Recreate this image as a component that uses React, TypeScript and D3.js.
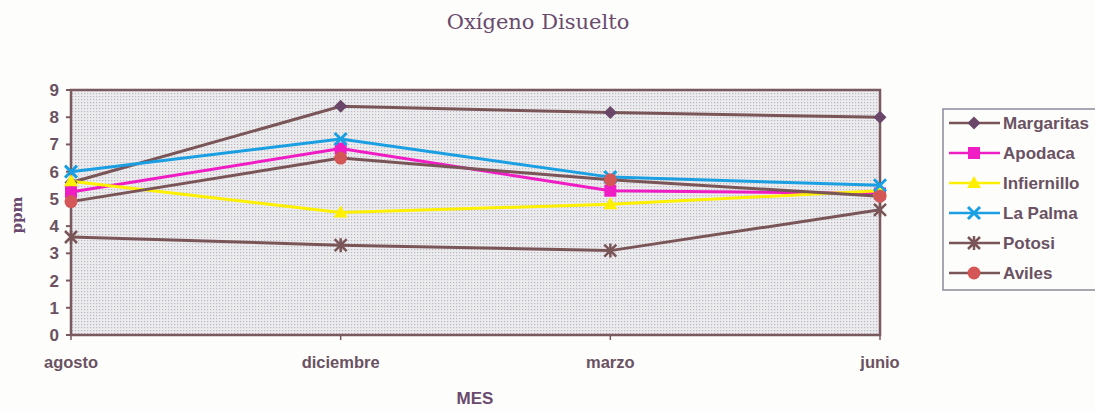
import React from "react";
import * as d3 from "d3";

const months = ["agosto", "diciembre", "marzo", "junio"];
const margaritas = [5.6, 8.4, 8.17, 8.0];
const apodaca = [5.25, 6.85, 5.3, 5.2];
const infiernillo = [5.65, 4.5, 4.8, 5.3];
const laPalma = [6.0, 7.2, 5.8, 5.5];
const potosi = [3.6, 3.3, 3.1, 4.6];
const aviles = [4.9, 6.5, 5.7, 5.1];
const yTicks = [0, 1, 2, 3, 4, 5, 6, 7, 8, 9];

const seriesNames = ["Margaritas", "Apodaca", "Infiernillo", "La Palma", "Potosi", "Aviles"];
const seriesValues = [margaritas, apodaca, infiernillo, laPalma, potosi, aviles];
const lineColors = ["#7a5558", "#f01cc4", "#fff000", "#1a9fe2", "#7a5558", "#7a5558"];
const markerColors = ["#6a4668", "#f01cc4", "#fff000", "#1a9fe2", "#7a5558", "#d45656"];
const markerTypes = ["diamond", "square", "triangle", "x", "star", "circle"];

const W = 1095;
const H = 411;
const plot = { left: 71, right: 880, top: 90, bottom: 335 };
const axisColor = "#7a5a5e";
const textColor = "#6a5262";

function Marker({ type, x, y, color }: { type: string; x: number; y: number; color: string }) {
  const s = 6.5;
  if (type === "diamond") {
    return <path d={`M${x},${y - s}L${x + s},${y}L${x},${y + s}L${x - s},${y}Z`} fill={color} />;
  }
  if (type === "square") {
    return <rect x={x - 6} y={y - 6} width={12} height={12} fill={color} />;
  }
  if (type === "triangle") {
    return <path d={`M${x},${y - 7}L${x + 7},${y + 5}L${x - 7},${y + 5}Z`} fill={color} />;
  }
  if (type === "x") {
    return (
      <path d={`M${x - 6},${y - 6}L${x + 6},${y + 6}M${x + 6},${y - 6}L${x - 6},${y + 6}`} stroke={color} strokeWidth={3} />
    );
  }
  if (type === "star") {
    return (
      <path
        d={`M${x - 6},${y - 6}L${x + 6},${y + 6}M${x + 6},${y - 6}L${x - 6},${y + 6}M${x},${y - 7}L${x},${y + 7}`}
        stroke={color}
        strokeWidth={2.5}
      />
    );
  }
  return <circle cx={x} cy={y} r={6.5} fill={color} />;
}

export default function App() {
  const x = d3.scalePoint<string>().domain(months).range([plot.left, plot.right]).padding(0);
  const y = d3.scaleLinear().domain([0, 9]).range([plot.bottom, plot.top]);
  const line = d3
    .line<number>()
    .x((_, i) => x(months[i]) as number)
    .y((d) => y(d));

  const legend = { x: 943, y: 109, w: 160, h: 181 };

  return (
    <svg width={W} height={H} style={{ position: "absolute", left: 0, top: 0, background: "#fdfdfb" }}>
      <defs>
        <pattern id="dots" width="3" height="3" patternUnits="userSpaceOnUse">
          <rect width="3" height="3" fill="#ececef" />
          <rect x="0" y="0" width="1.2" height="1.2" fill="#b8b8c0" />
        </pattern>
      </defs>
      <text
        x={538}
        y={29}
        textAnchor="middle"
        fontFamily="'DejaVu Serif', 'Liberation Serif', serif"
        fontSize={21}
        fill="#6a4a6e"
      >
        Oxígeno Disuelto
      </text>
      <rect
        x={plot.left}
        y={plot.top}
        width={plot.right - plot.left}
        height={plot.bottom - plot.top}
        fill="url(#dots)"
        stroke={axisColor}
        strokeWidth={2.5}
      />
      {yTicks.map((t) => (
        <g key={t}>
          <line x1={plot.left - 5} x2={plot.left} y1={y(t)} y2={y(t)} stroke={axisColor} strokeWidth={2} />
          <text
            x={plot.left - 12}
            y={y(t) + 6}
            textAnchor="end"
            fontFamily="'Liberation Sans', Arial, sans-serif"
            fontWeight="bold"
            fontSize={17}
            fill={textColor}
          >
            {t}
          </text>
        </g>
      ))}
      {months.map((m) => (
        <g key={m}>
          <line
            x1={x(m) as number}
            x2={x(m) as number}
            y1={plot.bottom}
            y2={plot.bottom + 5}
            stroke={axisColor}
            strokeWidth={1.5}
          />
          <text
            x={x(m) as number}
            y={368}
            textAnchor="middle"
            fontFamily="'Liberation Sans', Arial, sans-serif"
            fontWeight="bold"
            fontSize={16.5}
            fill={textColor}
          >
            {m}
          </text>
        </g>
      ))}
      <text
        x={475}
        y={404}
        textAnchor="middle"
        fontFamily="'Liberation Sans', Arial, sans-serif"
        fontWeight="bold"
        fontSize={17}
        fill="#6a4a6e"
      >
        MES
      </text>
      <text
        transform="translate(22,215) rotate(-90)"
        textAnchor="middle"
        fontFamily="'DejaVu Serif', 'Liberation Serif', serif"
        fontWeight="bold"
        fontSize={15}
        fill="#6a4a6e"
      >
        ppm
      </text>
      {seriesValues.map((vals, si) => (
        <g key={seriesNames[si]}>
          <path d={line(vals) || ""} fill="none" stroke={lineColors[si]} strokeWidth={3} />
        </g>
      ))}
      {seriesValues.map((vals, si) => (
        <g key={seriesNames[si] + "m"}>
          {vals.map((v, i) => (
            <Marker key={i} type={markerTypes[si]} x={x(months[i]) as number} y={y(v)} color={markerColors[si]} />
          ))}
        </g>
      ))}
      <rect x={legend.x} y={legend.y} width={legend.w} height={legend.h} fill="#fdfdfb" stroke="#8a8a9a" strokeWidth={1.5} />
      {seriesNames.map((name, si) => {
        const ly = 123 + si * 30;
        return (
          <g key={name}>
            <line x1={949} x2={1000} y1={ly} y2={ly} stroke={lineColors[si]} strokeWidth={2.5} />
            <Marker type={markerTypes[si]} x={974} y={ly} color={markerColors[si]} />
            <text
              x={1003}
              y={ly + 6}
              fontFamily="'Liberation Sans', Arial, sans-serif"
              fontWeight="bold"
              fontSize={17}
              fill={textColor}
            >
              {name}
            </text>
          </g>
        );
      })}
    </svg>
  );
}
